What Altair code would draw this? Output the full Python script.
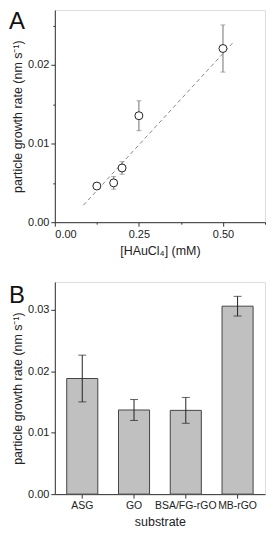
import altair as alt
import pandas as pd

# Panel A data
conc = [0.125, 0.175, 0.2, 0.25, 0.5]
rate = [0.0046, 0.0050, 0.0069, 0.01355, 0.0221]
rate_err = [0.0002, 0.0008, 0.0008, 0.0019, 0.0030]
fit_x = [0.085, 0.532]
fit_y = [0.00216, 0.02295]

# Panel B data
substrates = ["ASG", "GO", "BSA/FG-rGO", "MB-rGO"]
sub_rate = [0.0188, 0.01368, 0.01362, 0.03056]
sub_err = [0.0038, 0.0017, 0.0021, 0.0016]

a_xticks = [0, 0.125, 0.25, 0.375, 0.5, 0.625]
a_yticks = [0, 0.005, 0.01, 0.015, 0.02, 0.025]
b_yticks = [0, 0.005, 0.01, 0.015, 0.02, 0.025, 0.03]

FONT = "Liberation Sans"
W, H = 211, 213

dfa = pd.DataFrame({"x": conc, "y": rate, "e": rate_err})
dfa["lo"] = dfa["y"] - dfa["e"]
dfa["hi"] = dfa["y"] + dfa["e"]
dff = pd.DataFrame({"x": fit_x, "y": fit_y})

dfb = pd.DataFrame({"s": substrates, "y": sub_rate, "e": sub_err})
dfb["lo"] = dfb["y"] - dfb["e"]
dfb["hi"] = dfb["y"] + dfb["e"]


def major(mult):
    return f"abs(datum.value*{mult} - round(datum.value*{mult})) < 1e-6"


def tick_size(mult):
    return {"condition": {"test": major(mult), "value": 4}, "value": 2}


ax_common = dict(labelFont=FONT, titleFont=FONT, labelFontSize=11, titleFontSize=12.5,
                 titleFontWeight="normal", labelColor="#222", titleColor="#222",
                 domainColor="#333", tickColor="#333", grid=False, labelPadding=2)

xA = alt.X("x:Q", scale=alt.Scale(domain=[0, 0.625], nice=False),
           axis=alt.Axis(values=a_xticks, title="[HAuCl₄] (mM)",
                         labelExpr=f"{major(4)} ? format(datum.value, '.2f') : ''",
                         tickSize=tick_size(4), titlePadding=5, **ax_common))
yA = alt.Y("y:Q", scale=alt.Scale(domain=[0, 0.027], nice=False),
           axis=alt.Axis(values=a_yticks, title="particle growth rate (nm s⁻¹)",
                         labelExpr=f"{major(100)} ? format(datum.value, '.2f') : ''",
                         tickSize=tick_size(100), titlePadding=3, **ax_common))

fit = alt.Chart(dff).mark_line(color="#888", strokeDash=[4, 3], strokeWidth=1).encode(x=xA, y=yA)
err_a = alt.Chart(dfa).mark_rule(color="#888", strokeWidth=1.2).encode(x="x:Q", y="lo:Q", y2="hi:Q")
cap_lo_a = alt.Chart(dfa).mark_tick(color="#888", orient="horizontal", size=5, thickness=1).encode(x="x:Q", y="lo:Q")
cap_hi_a = alt.Chart(dfa).mark_tick(color="#888", orient="horizontal", size=5, thickness=1).encode(x="x:Q", y="hi:Q")
pts = alt.Chart(dfa).mark_point(shape="circle", filled=True, fill="white", stroke="#222",
                                strokeWidth=1, size=64, opacity=1).encode(x="x:Q", y="y:Q")
labA = alt.Chart(pd.DataFrame({"t": ["A"]})).mark_text(
    align="left", baseline="top", fontSize=24, font=FONT, color="#111"
).encode(x=alt.value(-46), y=alt.value(0), text="t:N")

chartA = alt.layer(fit, err_a, cap_lo_a, cap_hi_a, pts, labA).properties(width=W, height=H)

xB = alt.X("s:N", sort=substrates,
           scale=alt.Scale(paddingInner=0.4, paddingOuter=0.23),
           axis=alt.Axis(title="substrate", labelAngle=0, tickSize=4, titlePadding=5,
                         **{**ax_common, "labelFontSize": 10.5}))
yB = alt.Y("y:Q", scale=alt.Scale(domain=[0, 0.0345], nice=False),
           axis=alt.Axis(values=b_yticks, title="particle growth rate (nm s⁻¹)",
                         labelExpr=f"{major(100)} ? format(datum.value, '.2f') : ''",
                         tickSize=tick_size(100), titlePadding=3, **ax_common))

bars = alt.Chart(dfb).mark_bar(fill="#c0c0c0", stroke="#444", strokeWidth=1).encode(x=xB, y=yB)
err_b = alt.Chart(dfb).mark_rule(color="#222", strokeWidth=1).encode(x=alt.X("s:N", sort=substrates), y="lo:Q", y2="hi:Q")
cap_lo_b = alt.Chart(dfb).mark_tick(color="#222", orient="horizontal", size=8, thickness=1).encode(
    x=alt.X("s:N", sort=substrates), y="lo:Q")
cap_hi_b = alt.Chart(dfb).mark_tick(color="#222", orient="horizontal", size=8, thickness=1).encode(
    x=alt.X("s:N", sort=substrates), y="hi:Q")
labB = alt.Chart(pd.DataFrame({"t": ["B"]})).mark_text(
    align="left", baseline="top", fontSize=24, font=FONT, color="#111"
).encode(x=alt.value(-46), y=alt.value(2), text="t:N")

chartB = alt.layer(bars, err_b, cap_lo_b, cap_hi_b, labB).properties(width=W, height=H)

chart = alt.vconcat(chartA, chartB, spacing=24).properties(padding=0).configure_view(
    stroke="#333", strokeWidth=1
).configure(background="white")

chart.save("out.html", embed_options={"renderer": "svg", "actions": False})
